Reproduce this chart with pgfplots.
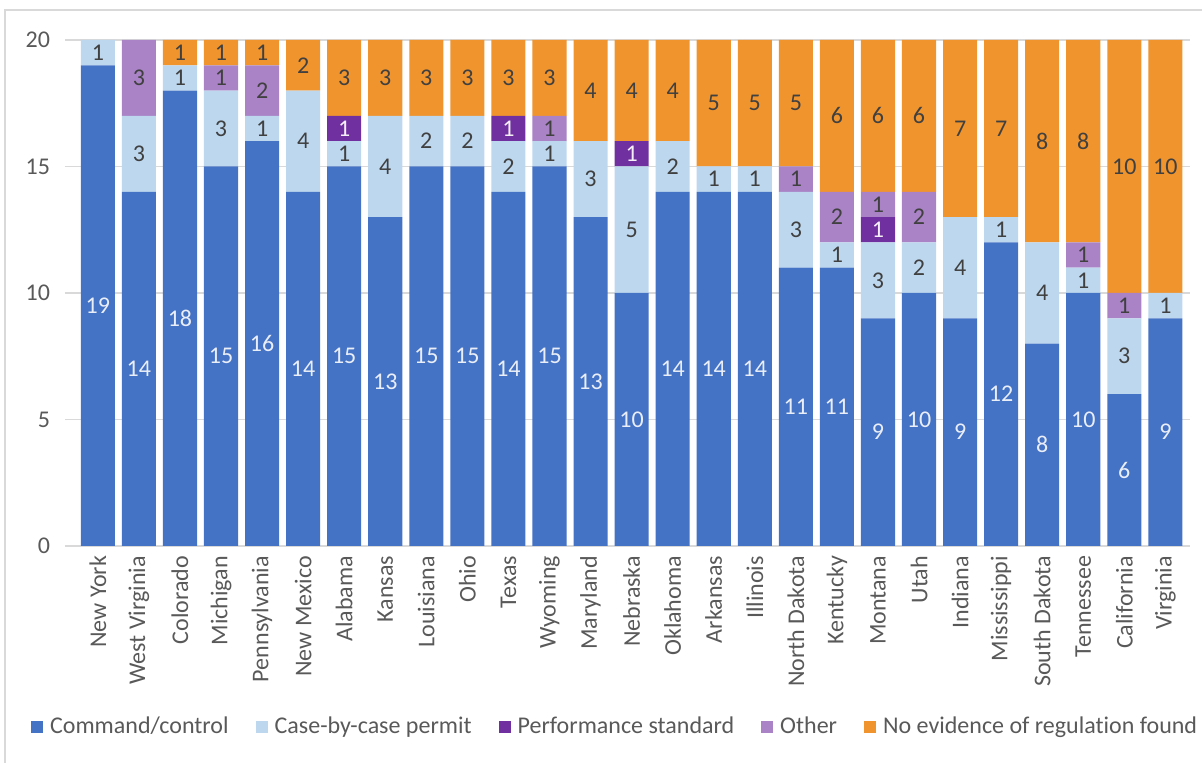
\documentclass[border=0pt]{standalone}
\usepackage{pgfplots}
\pgfplotsset{compat=1.18}
\usepackage{pgfplotstable}
\usepackage{fontspec}
\setmainfont{Carlito}[Ligatures=NoCommon]
\definecolor{ccblue}{HTML}{4472C4}
\definecolor{cblight}{HTML}{BDD7EE}
\definecolor{psviolet}{HTML}{7030A0}
\definecolor{otlilac}{HTML}{A983C6}
\definecolor{neorange}{HTML}{F0942E}
\definecolor{txtgray}{HTML}{595959}
\definecolor{lblgray}{HTML}{404040}
\definecolor{gridgray}{HTML}{D9D9D9}

% x cc=command/control, cb=case-by-case, ps=performance std, ot=other, ne=no evidence
\pgfplotstableread{
x  cc cb ps ot ne
0  19 1  0  0  0
1  14 3  0  3  0
2  18 1  0  0  1
3  15 3  0  1  1
4  16 1  0  2  1
5  14 4  0  0  2
6  15 1  1  0  3
7  13 4  0  0  3
8  15 2  0  0  3
9  15 2  0  0  3
10 14 2  1  0  3
11 15 1  0  1  3
12 13 3  0  0  4
13 10 5  1  0  4
14 14 2  0  0  4
15 14 1  0  0  5
16 14 1  0  0  5
17 11 3  0  1  5
18 11 1  0  2  6
19 9  3  1  1  6
20 10 2  0  2  6
21 9  4  0  0  7
22 12 1  0  0  7
23 8  4  0  0  8
24 10 1  0  1  8
25 6  3  0  1  10
26 9  1  0  0  10
}\data

\begin{document}
\begin{tikzpicture}[font=\fontsize{12}{14}\selectfont]
\useasboundingbox (0,0) rectangle (601pt,381.5pt);
\draw[gridgray, line width=0.8pt] (2.5pt,0) -- (2.5pt,376.5pt) -- (601pt,376.5pt);
\begin{axis}[
    at={(32.5pt,108.5pt)}, anchor=south west,
    scale only axis,
    width=562.5pt, height=253pt,
    ybar stacked,
    bar width=0.83,
    xmin=-0.8, xmax=26.6,
    ymin=0, ymax=20,
    ytick={0,5,...,20},
    xtick={0,...,26},
    xticklabels={New York, West Virginia, Colorado, Michigan, Pennsylvania, New Mexico, Alabama, Kansas, Louisiana, Ohio, Texas, Wyoming, Maryland, Nebraska, Oklahoma, Arkansas, Illinois, North Dakota, Kentucky, Montana, Utah, Indiana, Mississippi, South Dakota, Tennessee, California, Virginia},
    xticklabel style={rotate=90, anchor=east, text=txtgray, font=\fontsize{12}{14}\selectfont, xshift=-1.5pt},
    yticklabel style={text=txtgray, xshift=-4pt, font=\fontsize{12}{14}\selectfont},
    /pgf/number format/assume math mode=true,
    major tick length=0pt,
    axis line style={draw=none},
    ymajorgrids,
    grid style={gridgray, line width=0.8pt},
    point meta=explicit,
    nodes near coords={\pgfmathfloatifflags{\pgfplotspointmeta}{0}{}{\pgfmathprintnumber{\pgfplotspointmeta}}},
    every node near coord/.append style={anchor=center, text=lblgray, font=\fontsize{12}{14}\selectfont},
    legend columns=-1,
    legend style={at={(0.481,-0.357)}, anchor=center, draw=none, fill=none,
        text=txtgray, font=\fontsize{12}{14}\selectfont, column sep=1.5pt},
    legend image code/.code={\path[draw=none, fill=none] (-10pt,0) -- (0pt,0); \fill[#1, draw=none] (0pt,-3pt) rectangle (6pt,3pt);},
]
\addplot[fill=ccblue, draw=none, every node near coord/.append style={text=white!88!ccblue}] table[x=x, y=cc, meta=cc]{\data};
\addplot[fill=cblight, draw=none] table[x=x, y=cb, meta=cb]{\data};
\addplot[fill=psviolet, draw=none, every node near coord/.append style={text=white!92!psviolet}] table[x=x, y=ps, meta=ps]{\data};
\addplot[fill=otlilac, draw=none] table[x=x, y=ot, meta=ot]{\data};
\addplot[fill=neorange, draw=none] table[x=x, y=ne, meta=ne]{\data};
\legend{Command/control, Case-by-case permit, Performance standard, Other, No evidence of regulation found}
\end{axis}
\end{tikzpicture}
\end{document}
